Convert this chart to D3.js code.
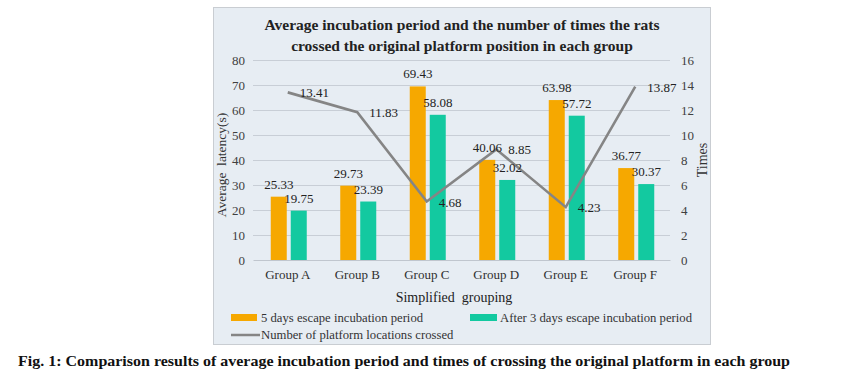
<!DOCTYPE html>
<html><head><meta charset="utf-8">
<script src="https://cdn.jsdelivr.net/npm/d3@7"></script>
<style>body{margin:0;background:#fff}svg{display:block}text{font-family:"Liberation Serif","Times New Roman",serif}</style>
</head><body><svg id="c" width="845" height="381"></svg>
<script>
const groups = ["Group A","Group B","Group C","Group D","Group E","Group F"];
const fiveDays = [25.33,29.73,69.43,40.06,63.98,36.77];
const afterThree = [19.75,23.39,58.08,32.02,57.72,30.37];
const crossings = [13.41,11.83,4.68,8.85,4.23,13.87];
const leftTicks = [0,10,20,30,40,50,60,70,80];
const rightTicks = [0,2,4,6,8,10,12,14,16];

const svg = d3.select("#c");
const orange = "#f6a800", teal = "#13c9a0", gray = "#858585";

svg.append("rect").attr("x",213.5).attr("y",7.5).attr("width",497).attr("height",337)
  .attr("fill","#e7edf3").attr("stroke","#c9cdd2");

const x = d3.scaleBand().domain(groups).range([253,670]);
const yL = d3.scaleLinear().domain([0,80]).range([260,60]);
const yR = d3.scaleLinear().domain([0,16]).range([260,60]);

// grid
svg.append("g").selectAll("line").data(leftTicks.slice(1)).join("line")
  .attr("x1",253).attr("x2",670).attr("y1",d=>yL(d)+0.5).attr("y2",d=>yL(d)+0.5)
  .attr("stroke","#c8ced6").attr("stroke-width",1);

// axes
const gl = svg.append("g").attr("transform","translate(253,0)")
  .call(d3.axisLeft(yL).tickValues(leftTicks).tickSize(0).tickPadding(8));
gl.select(".domain").remove();
gl.selectAll("text").attr("font-size",13).attr("fill","#404040").attr("font-family","Liberation Serif");
const gr = svg.append("g").attr("transform","translate(670,0)")
  .call(d3.axisRight(yR).tickValues(rightTicks).tickSize(0).tickPadding(11));
gr.select(".domain").remove();
gr.selectAll("text").attr("font-size",13).attr("fill","#404040").attr("font-family","Liberation Serif");
const gx = svg.append("g").attr("transform","translate(0,260)")
  .call(d3.axisBottom(x).tickSize(0).tickPadding(10));
gx.select(".domain").attr("stroke","#c0c6ce");
gx.selectAll("text").attr("font-size",13).attr("fill","#303030").attr("font-family","Liberation Serif");

// bars
const bw = 16, gap = 4;
const cx = d => x(d) + x.bandwidth()/2;
svg.append("g").selectAll("rect").data(groups).join("rect")
  .attr("x",d=>cx(d)-gap/2-bw+1).attr("width",bw)
  .attr("y",(d,i)=>yL(fiveDays[i])).attr("height",(d,i)=>260-yL(fiveDays[i]))
  .attr("fill",orange);
svg.append("g").selectAll("rect").data(groups).join("rect")
  .attr("x",d=>cx(d)+gap/2+1).attr("width",bw)
  .attr("y",(d,i)=>yL(afterThree[i])).attr("height",(d,i)=>260-yL(afterThree[i]))
  .attr("fill",teal);

// line
const line = d3.line().x((d,i)=>cx(groups[i])).y(d=>yR(d));
svg.append("path").datum(crossings).attr("d",line).attr("fill","none")
  .attr("stroke",gray).attr("stroke-width",2.6);

// value labels
const lab = svg.append("g").attr("font-size",13).attr("fill","#222");
lab.selectAll(".a").data(groups).join("text")
  .attr("x",d=>cx(d)-gap/2-bw/2+1).attr("y",(d,i)=>yL(fiveDays[i])-8)
  .attr("text-anchor","middle").text((d,i)=>fiveDays[i].toFixed(2));
lab.selectAll(".b").data(groups).join("text")
  .attr("x",d=>cx(d)+gap/2+bw/2+1).attr("y",(d,i)=>yL(afterThree[i])-8)
  .attr("text-anchor","middle").text((d,i)=>afterThree[i].toFixed(2));
lab.selectAll(".c").data(groups).join("text")
  .attr("x",d=>cx(d)+12).attr("y",(d,i)=>yR(crossings[i])+5)
  .text((d,i)=>crossings[i].toFixed(2));

// titles
const t = svg.append("g").attr("text-anchor","middle").attr("font-weight","bold").attr("font-size",15.5).attr("fill","#222");
t.append("text").attr("x",462).attr("y",30).text("Average incubation period and the number of times the rats");
t.append("text").attr("x",462).attr("y",51).text("crossed the original platform position in each group");

svg.append("text").attr("x",454).attr("y",302).attr("text-anchor","middle").attr("font-size",14).attr("fill","#222")
  .attr("xml:space","preserve").text("Simplified  grouping");
svg.append("text").attr("transform","translate(226,165) rotate(-90)").attr("text-anchor","middle")
  .attr("font-size",13.5).attr("fill","#333").attr("xml:space","preserve").text("Average  latency(s)");
svg.append("text").attr("transform","translate(707,160) rotate(-90)").attr("text-anchor","middle")
  .attr("font-size",14).attr("fill","#333").text("Times");

// legend
const lg = svg.append("g").attr("font-size",12.7).attr("fill","#333");
lg.append("rect").attr("x",231).attr("y",314).attr("width",26).attr("height",7).attr("fill",orange);
lg.append("text").attr("x",261).attr("y",322).text("5 days escape incubation period");
lg.append("rect").attr("x",470).attr("y",314).attr("width",27).attr("height",7).attr("fill",teal);
lg.append("text").attr("x",500).attr("y",322).text("After 3 days escape incubation period");
lg.append("line").attr("x1",231).attr("x2",260).attr("y1",335).attr("y2",335).attr("stroke",gray).attr("stroke-width",2.5);
lg.append("text").attr("x",261).attr("y",339).text("Number of platform locations crossed");

// caption
svg.append("text").attr("x",18).attr("y",366).attr("font-weight","bold").attr("font-size",15.5)
  .attr("fill","#111").attr("textLength",772).attr("lengthAdjust","spacingAndGlyphs")
  .text("Fig. 1: Comparison results of average incubation period and times of crossing the original platform in each group");
</script></body></html>
